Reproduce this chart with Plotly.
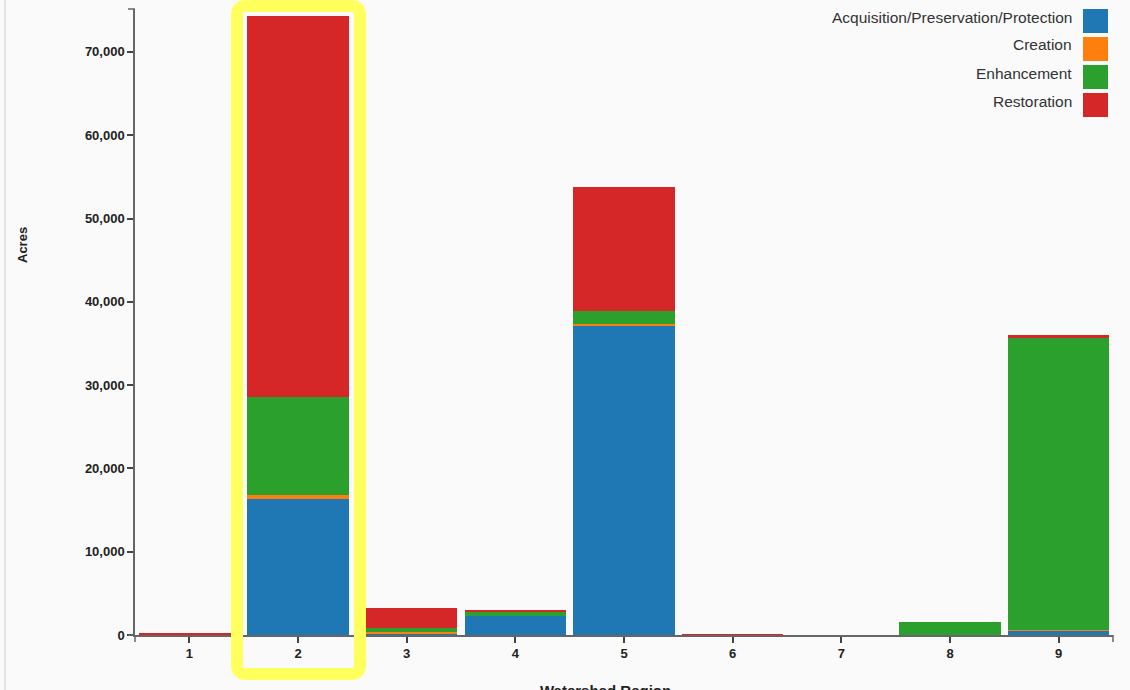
import plotly.graph_objects as go

# ---- data ----
regions = ["1", "2", "3", "4", "5", "6", "7", "8", "9"]
series_names = ["Acquisition/Preservation/Protection", "Creation", "Enhancement", "Restoration"]
acquisition = [50, 16350, 100, 2280, 37100, 40, 0, 0, 550]
creation = [0, 400, 300, 0, 200, 0, 0, 40, 50]
enhancement = [50, 11800, 400, 500, 1600, 20, 0, 1550, 35050]
restoration = [150, 45750, 2500, 250, 14900, 30, 0, 0, 350]
colors = ["#1f77b4", "#ff7f0e", "#2ca02c", "#d62728"]
y_ticks = [0, 10000, 20000, 30000, 40000, 50000, 60000, 70000]
y_max = 75150

W, H = 1130, 690
L, R, T, B = 135, 1113, 9, 635  # plot area in pixels


def px(x):
    return (x - L) / (R - L)


def py(y):
    return (B - y) / (B - T)


x_pos = list(range(1, len(regions) + 1))
fig = go.Figure()
for name, vals, col in zip(series_names, [acquisition, creation, enhancement, restoration], colors):
    fig.add_trace(go.Bar(x=x_pos, y=vals, name=name, marker=dict(color=col, line=dict(width=0)),
                         showlegend=False))

font = "Liberation Sans, Arial, Helvetica, sans-serif"
fig.update_layout(
    width=W, height=H, barmode="stack", bargap=0.07,
    margin=dict(l=L, r=W - R, t=T, b=H - B, pad=0),
    paper_bgcolor="#fafafa", plot_bgcolor="#fafafa",
    font=dict(family=font, size=12, color="#222"),
    showlegend=False,
)
fig.update_xaxes(range=[0.5, len(regions) + 0.5], tickvals=x_pos, ticktext=regions,
                 showgrid=False, zeroline=False, showline=True, linecolor="#666", linewidth=1.5,
                 ticks="outside", ticklen=6, tickcolor="#444", tickwidth=1.5,
                 tickfont=dict(family=font, size=13, color="#222", weight="bold"))
fig.update_yaxes(range=[0, y_max], tickvals=y_ticks, tickformat=",d",
                 showgrid=False, zeroline=False, showline=True, linecolor="#666", linewidth=1.5,
                 ticks="outside", ticklen=6, tickcolor="#444", tickwidth=1.5,
                 tickfont=dict(family=font, size=13, color="#222", weight="bold"))

shapes = []
annotations = []
# custom legend (text right-aligned, swatch on the right)
for i, (name, col) in enumerate(zip(series_names, colors)):
    top = 9 + 28 * i
    shapes.append(dict(type="rect", xref="paper", yref="paper",
                       x0=px(1083), x1=px(1108), y0=py(top + 24), y1=py(top),
                       fillcolor=col, line=dict(width=0)))
    annotations.append(dict(xref="paper", yref="paper", x=px(1074), y=py(top + 8),
                            text=name, showarrow=False, xanchor="right", yanchor="middle",
                            font=dict(family=font, size=15.5, color="#333")))

# axis titles
annotations.append(dict(xref="paper", yref="paper", x=px(22), y=py(245), text="Acres", textangle=-90,
                        showarrow=False, xanchor="center", yanchor="middle",
                        font=dict(family=font, size=13, color="#222", weight="bold")))
annotations.append(dict(xref="paper", yref="paper", x=px(605), y=py(690), text="Watershed Region",
                        showarrow=False, xanchor="center", yanchor="middle",
                        font=dict(family=font, size=15, color="#222", weight="bold")))

# axis end caps (d3-style outer ticks)
shapes.append(dict(type="line", xref="paper", yref="paper", x0=px(128), x1=0, y0=1, y1=1,
                   line=dict(color="#666", width=1.5)))
shapes.append(dict(type="line", xref="paper", yref="paper", x0=px(128), x1=0, y0=0, y1=0,
                   line=dict(color="#666", width=1.5)))
shapes.append(dict(type="line", xref="paper", yref="paper", x0=1, x1=1, y0=0, y1=py(642),
                   line=dict(color="#666", width=1.5)))
shapes.append(dict(type="line", xref="paper", yref="paper", x0=0, x1=0, y0=0, y1=py(642),
                   line=dict(color="#666", width=1.5)))

# left page border
shapes.append(dict(type="line", xref="paper", yref="paper", x0=px(5), x1=px(5), y0=py(0), y1=py(690),
                   line=dict(color="#d0d0d0", width=1)))

# yellow highlight around region 2 (rounded rectangle)
bw = (R - L) / len(regions)
hx0 = 2 - 61 / bw
hx1 = 2 + 62 / bw
rx = 9 / bw
ry = 9 / (B - T)
yt, yb = py(6), py(674)
path = (f"M {hx0 + rx},{yt} L {hx1 - rx},{yt} Q {hx1},{yt} {hx1},{yt - ry} "
        f"L {hx1},{yb + ry} Q {hx1},{yb} {hx1 - rx},{yb} L {hx0 + rx},{yb} "
        f"Q {hx0},{yb} {hx0},{yb + ry} L {hx0},{yt - ry} Q {hx0},{yt} {hx0 + rx},{yt} Z")
shapes.append(dict(type="path", xref="x", yref="paper", path=path,
                   line=dict(color="#ffff5e", width=12), fillcolor="rgba(0,0,0,0)", layer="above"))

fig.update_layout(shapes=shapes, annotations=annotations)
fig.write_html("out.html", config={"displayModeBar": False},
               post_script="document.body.style.margin='0';document.body.style.overflow='hidden';")
